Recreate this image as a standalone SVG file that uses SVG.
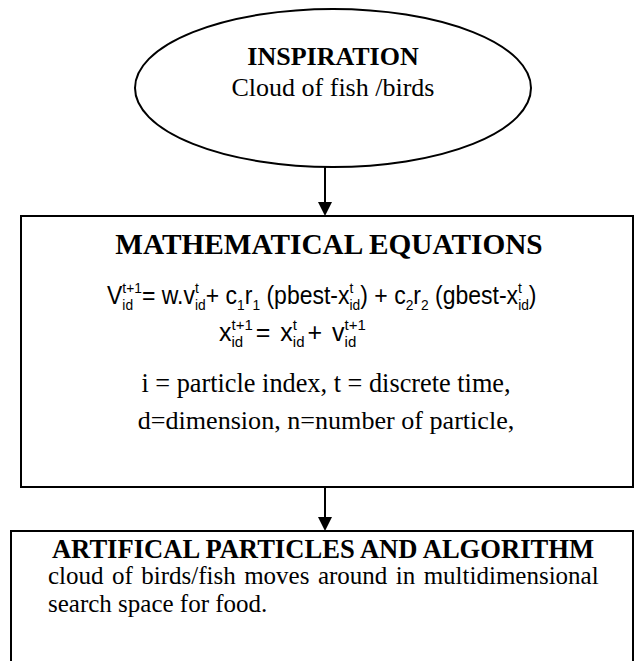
<svg xmlns="http://www.w3.org/2000/svg" width="638" height="661" viewBox="0 0 638 661">
<style>
.ln{stroke:#000;stroke-width:2;fill:none}
.hd{font-family:"Liberation Serif","Times New Roman",serif;font-weight:bold;fill:#000}
.tx{font-family:"Liberation Serif","Times New Roman",serif;fill:#000}
.eq{font-family:"Liberation Sans",Arial,sans-serif;font-size:25px;fill:#000;white-space:pre}
.s{font-size:15px}
</style>
<rect width="638" height="661" fill="#fff"/>
<g id="connectors">
<line class="ln" x1="325" y1="167" x2="325" y2="204"/>
<polygon points="318,202 332,202 325,216" fill="#000"/>
<line class="ln" x1="325" y1="487" x2="325" y2="519"/>
<polygon points="318,517 332,517 325,531" fill="#000"/>
</g>
<g id="inspiration">
<ellipse class="ln" cx="333" cy="88" rx="198" ry="79" stroke-width="1.6"/>
<text class="hd" x="333" y="65" font-size="26" text-anchor="middle">INSPIRATION</text>
<text class="tx" x="333" y="96" font-size="26" text-anchor="middle">Cloud of fish /birds</text>
</g>
<g id="equations">
<rect class="ln" x="21" y="216" width="612" height="271"/>
<text class="hd" x="329" y="254" font-size="29.3" text-anchor="middle">MATHEMATICAL EQUATIONS</text>
<text class="eq" transform="translate(107,304) scale(0.92,1)" x="0" y="0">V<tspan class="s" dy="-11">t+1</tspan><tspan class="s" dx="-21.27" dy="17">id</tspan><tspan dx="9.6" dy="-6">= w.v</tspan><tspan class="s" dy="-11">t</tspan><tspan class="s" dx="-4.17" dy="17">id</tspan><tspan dy="-6">+ c</tspan><tspan class="s" dy="6">1</tspan><tspan dy="-6">r</tspan><tspan class="s" dy="6">1</tspan><tspan dy="-6"> (pbest-x</tspan><tspan class="s" dy="-11">t</tspan><tspan class="s" dx="-4.17" dy="17">id</tspan><tspan dy="-6">) + c</tspan><tspan class="s" dy="6">2</tspan><tspan dy="-6">r</tspan><tspan class="s" dy="6">2</tspan><tspan dy="-6"> (gbest-x</tspan><tspan class="s" dy="-11">t</tspan><tspan class="s" dx="-4.17" dy="17">id</tspan><tspan dy="-6">)</tspan></text>
<text class="eq" x="219" y="341">x<tspan class="s" dy="-11">t+1</tspan><tspan class="s" dx="-21.27" dy="17">id</tspan><tspan dx="12.6" dy="-6">=</tspan><tspan dx="3"> x</tspan><tspan class="s" dy="-11">t</tspan><tspan class="s" dx="-4.17" dy="17">id</tspan><tspan dx="3" dy="-6">+</tspan><tspan dx="3"> v</tspan><tspan class="s" dy="-11">t+1</tspan><tspan class="s" dx="-21.27" dy="17">id</tspan></text>
<text class="tx" x="326" y="392" font-size="26.3" text-anchor="middle">i = particle index, t = discrete time,</text>
<text class="tx" x="326" y="429" font-size="26.1" text-anchor="middle">d=dimension, n=number of particle,</text>
</g>
<g id="algorithm">
<rect class="ln" x="11" y="531" width="622" height="150"/>
<text class="hd" x="323" y="558" font-size="26.6" text-anchor="middle">ARTIFICAL PARTICLES AND ALGORITHM</text>
<text class="tx" x="48" y="584" font-size="25" word-spacing="2.2">cloud of birds/fish moves around in multidimensional</text>
<text class="tx" x="48" y="612" font-size="25">search space for food.</text>
</g>
</svg>
